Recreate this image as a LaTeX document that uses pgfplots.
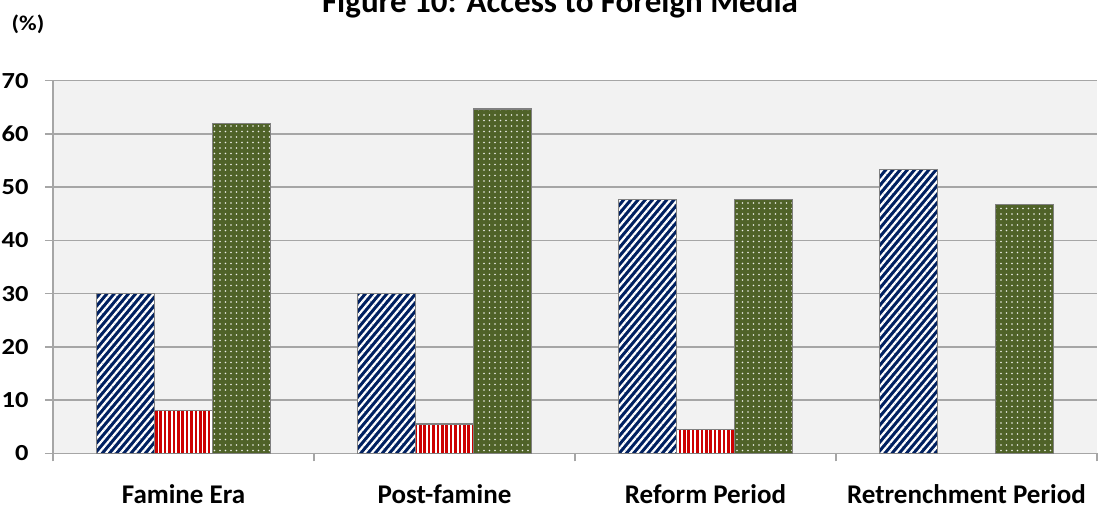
\documentclass[border=0pt]{standalone}
\usepackage{fontspec}
\setmainfont{Carlito}
\newfontfamily\tickfont{Carlito}[FakeStretch=1.15]
\usepackage{pgfplots}
\pgfplotsset{compat=1.18}
\usetikzlibrary{patterns.meta}
\definecolor{navy}{HTML}{002060}
\definecolor{bred}{HTML}{CC0000}
\definecolor{bgreen}{HTML}{4F6228}
\definecolor{plotbg}{HTML}{F2F2F2}
\definecolor{gridc}{HTML}{A6A6A6}
\definecolor{barline}{HTML}{808080}
\begin{document}
\begin{tikzpicture}
\begin{axis}[
  scale only axis, width=1044pt, height=372.6pt,
  xmin=-0.5, xmax=3.5, ymin=0, ymax=70,
  ybar=0pt, bar width=58pt,
  axis background/.style={fill=plotbg},
  axis x line=bottom, axis y line=left,
  axis line style={-, draw=gridc, line width=1.5pt},
  ytick={0,10,...,70},
  ymajorgrids, grid style={draw=gridc, line width=1.5pt},
  xtick={-0.5,0.5,1.5,2.5,3.5}, xticklabels={},
  extra x ticks={0,1,2,3},
  extra x tick labels={Famine Era, Post-famine, Reform Period, Retrenchment Period},
  extra x tick style={major tick length=0pt, tick style={draw=none},
     xticklabel style={yshift=-28pt}},
  tick align=outside, major tick length=8pt,
  tick style={draw=gridc, line width=1.5pt},
  /pgf/number format/assume math mode=true,
  ticklabel style={font=\tickfont\bfseries\fontsize{23}{23}\selectfont},
  xticklabel style={font=\bfseries\fontsize{27}{27}\selectfont},
  yticklabel style={xshift=-13pt},
]
\addplot[preaction={fill=navy}, pattern={Lines[angle=50,distance=5.5pt,line width=2.2pt]}, pattern color=white, draw=barline, line width=1.5pt]
  coordinates {(0,30) (1,30) (2,47.7) (3,53.3)};
\addplot[preaction={fill=bred}, pattern={Lines[angle=90,distance=4.4pt,line width=1.8pt]}, pattern color=white, draw=barline, line width=1.5pt]
  coordinates {(0,8) (1,5.5) (2,4.5)};
\addplot[preaction={fill=bgreen}, pattern={Dots[distance=5.5pt,radius=0.8pt]}, pattern color=white!90!bgreen, draw=barline, line width=1.5pt]
  coordinates {(0,62) (1,64.7) (2,47.7) (3,46.7)};
\end{axis}
\node[font=\tickfont\bfseries\fontsize{21}{21}\selectfont] at (-25pt,429pt) {(\%)};
\node[anchor=base, font=\bfseries\fontsize{33}{33}\selectfont] at (507pt,440.3pt) {Figure 10: Access to Foreign Media};
\pgfresetboundingbox
\useasboundingbox (-53pt,-57.7pt) rectangle (1045pt,453.3pt);
\end{tikzpicture}
\end{document}
